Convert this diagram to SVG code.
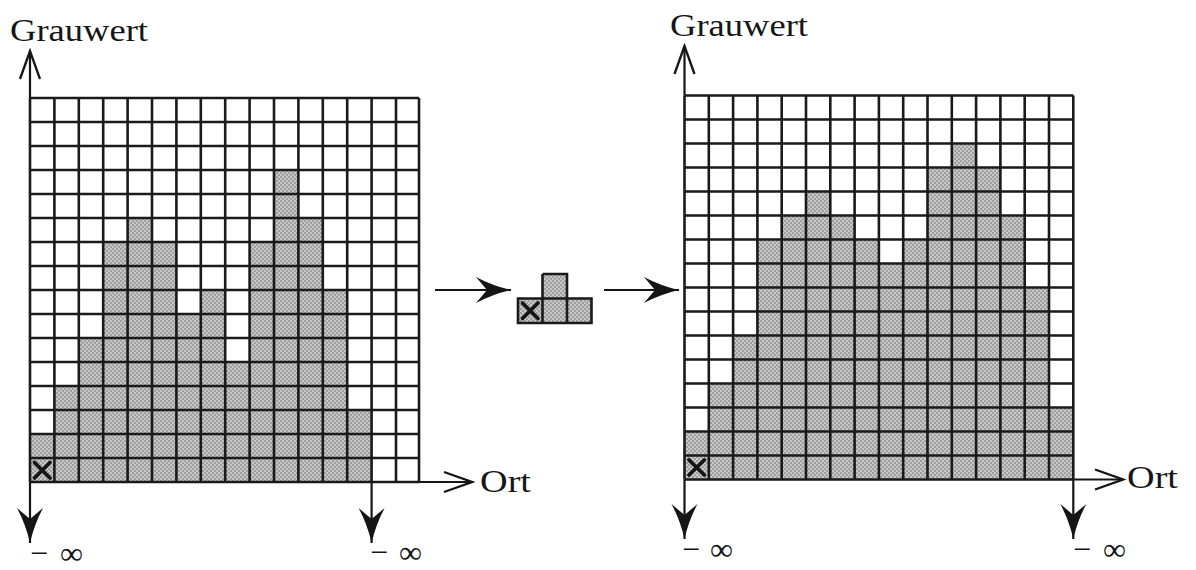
<svg xmlns="http://www.w3.org/2000/svg" width="1196" height="570" viewBox="0 0 1196 570">
  <defs>
    <!-- halftone grey used for occupied cells -->
    <pattern id="halftone" patternUnits="userSpaceOnUse" width="4" height="4">
      <rect width="4" height="4" fill="#c8c8c8"/>
      <rect width="2" height="2" fill="#9e9e9e"/>
      <rect x="2" y="2" width="2" height="2" fill="#9e9e9e"/>
    </pattern>
    <marker id="head-solid" markerUnits="userSpaceOnUse" markerWidth="38" markerHeight="30" viewBox="0 -15 38 30" refX="35" refY="0" orient="auto">
      <path d="M0,-13 Q17,-4 35,0 Q17,4 0,13 L11,0 Z" fill="#151515"/>
    </marker>
    <marker id="head-open" markerUnits="userSpaceOnUse" markerWidth="34" markerHeight="26" viewBox="-31 -13 34 26" refX="0" refY="0" orient="auto">
      <path d="M-28,-10 L0,0 L-28,10" fill="none" stroke="#151515" stroke-width="2.3" stroke-linejoin="miter"/>
    </marker>
  </defs>
  <style>
    .grid { fill: none; stroke: #1a1a1a; stroke-width: 2.6; }
    .fill { fill: url(#halftone); stroke: none; }
    .cross { stroke: #151515; stroke-width: 3.8; stroke-linecap: round; }
    .axis { fill: none; stroke: #151515; stroke-width: 2.2; }
    .solid { marker-end: url(#head-solid); }
    .open { marker-end: url(#head-open); }
    .lbl { font-family: "Liberation Serif", "Times New Roman", serif; fill: #161616; }
    .big { font-size: 32px; }
    .inf { font-size: 32px; }
  </style>

  <rect width="1196" height="570" fill="#ffffff"/>

  <!-- input profile: 16 x 16 cells -->
  <g id="grid-input">
    <path class="fill" d="M30,482 V434 H54.4 V386 H78.8 V338 H103.2 V242 H127.6 V218 H152 V242 H176.4 V314 H200.8 V290 H225.2 V362 H249.6 V242 H274 V170 H298.4 V218 H322.8 V290 H347.2 V410 H371.6 V482 Z"/>
    <path class="grid" d="M30,98V482 M54.4,98V482 M78.8,98V482 M103.2,98V482 M127.6,98V482 M152,98V482 M176.4,98V482 M200.8,98V482 M225.2,98V482 M249.6,98V482 M274,98V482 M298.4,98V482 M322.8,98V482 M347.2,98V482 M371.6,98V482 M396,98V482 M419,98V482
      M30,98H419 M30,122H419 M30,146H419 M30,170H419 M30,194H419 M30,218H419 M30,242H419 M30,266H419 M30,290H419 M30,314H419 M30,338H419 M30,362H419 M30,386H419 M30,410H419 M30,434H419 M30,458H419 M30,482H419"/>
    <path class="cross" d="M34.5,462.5 L50,478 M50,462.5 L34.5,478"/>
  </g>

  <!-- structuring element, origin bottom left -->
  <g id="structuring-element">
    <path class="fill" d="M518,323 V298.5 H542.5 V274 H567 V298.5 H591.5 V323 Z"/>
    <path class="grid" d="M518,298.5 H591.5 V323 H518 Z M542.5,274 H567 V323 M542.5,274 V323"/>
    <path class="cross" d="M522.5,303 L538,318.5 M538,303 L522.5,318.5"/>
  </g>

  <!-- dilated profile: 16 x 16 cells -->
  <g id="grid-output">
    <path class="fill" d="M684.5,479.5 V431.5 H708.8 V383.5 H733.1 V335.5 H757.4 V239.5 H781.7 V215.5 H806 V191.5 H830.3 V215.5 H854.6 V239.5 H878.9 V263.5 H903.2 V239.5 H927.5 V167.5 H951.8 V143.5 H976.1 V167.5 H1000.4 V215.5 H1024.7 V287.5 H1049 V407.5 H1073.3 V479.5 Z"/>
    <path class="grid" d="M684.5,95.5V479.5 M708.8,95.5V479.5 M733.1,95.5V479.5 M757.4,95.5V479.5 M781.7,95.5V479.5 M806,95.5V479.5 M830.3,95.5V479.5 M854.6,95.5V479.5 M878.9,95.5V479.5 M903.2,95.5V479.5 M927.5,95.5V479.5 M951.8,95.5V479.5 M976.1,95.5V479.5 M1000.4,95.5V479.5 M1024.7,95.5V479.5 M1049,95.5V479.5 M1073.3,95.5V479.5
      M684.5,95.5H1073.3 M684.5,119.5H1073.3 M684.5,143.5H1073.3 M684.5,167.5H1073.3 M684.5,191.5H1073.3 M684.5,215.5H1073.3 M684.5,239.5H1073.3 M684.5,263.5H1073.3 M684.5,287.5H1073.3 M684.5,311.5H1073.3 M684.5,335.5H1073.3 M684.5,359.5H1073.3 M684.5,383.5H1073.3 M684.5,407.5H1073.3 M684.5,431.5H1073.3 M684.5,455.5H1073.3 M684.5,479.5H1073.3"/>
    <path class="cross" d="M689,460 L704.3,475 M704.3,460 L689,475"/>
  </g>

  <!-- axes and arrows -->
  <g id="connectors">
    <line class="axis open" x1="30" y1="98" x2="30" y2="51"/>
    <line class="axis open" x1="419" y1="482" x2="472" y2="482"/>
    <line class="axis solid" x1="30" y1="482" x2="30" y2="543"/>
    <line class="axis solid" x1="371.6" y1="482" x2="371.6" y2="543"/>

    <line class="axis solid" x1="435" y1="290" x2="511" y2="290"/>
    <line class="axis solid" x1="604" y1="290" x2="679" y2="290"/>

    <line class="axis open" x1="684.5" y1="95.5" x2="684.5" y2="46"/>
    <line class="axis open" x1="1073.3" y1="479.5" x2="1123" y2="479.5"/>
    <line class="axis solid" x1="684.5" y1="479.5" x2="684.5" y2="539"/>
    <line class="axis solid" x1="1073.3" y1="479.5" x2="1073.3" y2="539"/>
  </g>

  <g id="labels">
    <text class="lbl big" x="10" y="41" textLength="138" lengthAdjust="spacingAndGlyphs">Grauwert</text>
    <text class="lbl big" x="670" y="36" textLength="138" lengthAdjust="spacingAndGlyphs">Grauwert</text>
    <text class="lbl big" x="480" y="492" textLength="51" lengthAdjust="spacingAndGlyphs">Ort</text>
    <text class="lbl big" x="1127" y="488" textLength="51" lengthAdjust="spacingAndGlyphs">Ort</text>
    <text class="lbl inf" y="564"><tspan x="30">−</tspan><tspan x="60">∞</tspan></text>
    <text class="lbl inf" y="563"><tspan x="370">−</tspan><tspan x="399">∞</tspan></text>
    <text class="lbl inf" y="560"><tspan x="682">−</tspan><tspan x="710">∞</tspan></text>
    <text class="lbl inf" y="560"><tspan x="1073">−</tspan><tspan x="1103">∞</tspan></text>
  </g>
</svg>
